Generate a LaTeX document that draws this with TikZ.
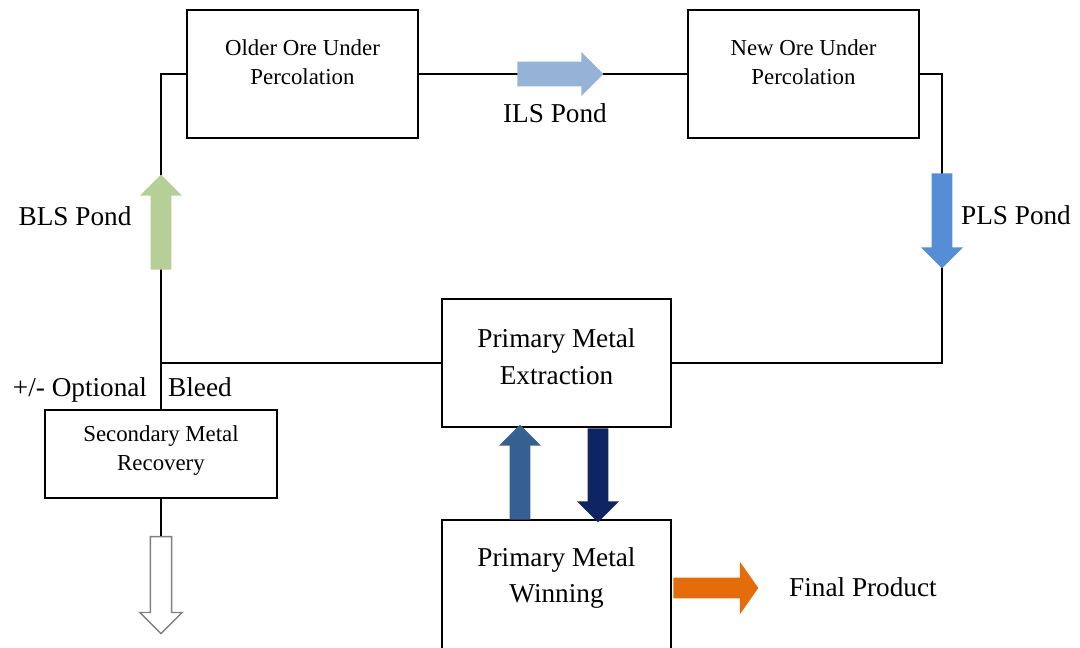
\documentclass[tikz,border=0pt]{standalone}
\usepackage{fontspec}
\setmainfont{Liberation Serif}
\usetikzlibrary{shapes.arrows}
\begin{document}
\begin{tikzpicture}[x=0.02cm, y=-0.02cm,
    unit/.style={draw, line width=0.9pt, minimum width=4.62cm, minimum height=2.56cm},
    flow/.style={single arrow, minimum width=0pt, minimum height=#1, inner xsep=0pt, inner ysep=0.2cm,
      single arrow head extend=0.21cm, single arrow tip angle=90, anchor=tail},
    link/.style={line width=0.7pt},
    pond/.style={font=\fontsize{15.5}{21}\selectfont},
    small/.style={font=\fontsize{13}{16.5}\selectfont, align=center},
    big/.style={font=\fontsize{15.5}{21}\selectfont, align=center}]
    \definecolor{bls-green}{RGB}{181,207,150}
    \definecolor{ils-blue}{RGB}{149,179,215}
    \definecolor{pls-blue}{RGB}{85,142,213}
    \definecolor{up-blue}{RGB}{55,96,146}
    \definecolor{down-blue}{RGB}{15,36,98}
    \definecolor{final-orange}{RGB}{228,108,10}
    \useasboundingbox (0,0) rectangle (1080,648);
    \node[unit] (older) at (302.5,74) {};
    \node[unit] (newer) at (803.5,74) {};
    \node[unit, minimum width=4.58cm] (extract) at (556.5,363) {};
    \node[unit, minimum width=4.58cm, minimum height=2.6cm] (winning) at (556.5,585) {};
    \node[unit, minimum width=4.64cm, minimum height=1.76cm] (secondary) at (161,454) {};
    \node[small] (older-t) at (302.5,62) {Older Ore Under\\Percolation};
    \node[small] (newer-t) at (803.5,62) {New Ore Under\\Percolation};
    \node[big] (extract-t) at (556.5,357) {Primary Metal\\Extraction};
    \node[big] (winning-t) at (556.5,578) {Primary Metal\\Winning};
    \node[small] (secondary-t) at (161,451) {Secondary Metal\\Recovery};
    \coordinate (lt) at (161,74);
    \coordinate (rt) at (942,74);
    \draw[link] (older.east) -- (newer.west);
    \draw[link] (older.west) -- (lt) -- (secondary.north);
    \draw[link] (secondary.north |- extract.west) -- (extract.west);
    \draw[link] (newer.east) -- (rt) |- (extract.east);
    \node[flow=1.9cm, fill=bls-green, rotate=90] (bls) at (161,270) {};
    \node[flow=1.72cm, fill=ils-blue, inner ysep=0.24cm, single arrow head extend=0.19cm] (ils) at (517,74) {};
    \node[flow=1.9cm, fill=pls-blue, rotate=-90] (pls) at (942,173) {};
    \node[flow=1.9cm, fill=up-blue, rotate=90] (refine) at (520,520) {};
    \node[flow=1.88cm, fill=down-blue, rotate=-90] (strip) at (598,428) {};
    \node[flow=1.7cm, fill=final-orange, single arrow head extend=0.32cm, single arrow tip angle=110] (final) at (673,588) {};
    \node[flow=1.94cm, draw=gray, fill=white, line width=0.8pt, rotate=-90] (waste) at (161,536) {};
    \draw[link] (secondary.south) -- (waste.tail);
    \node[pond, anchor=base] (ils-l) at (555,123) {ILS Pond};
    \node[pond, anchor=base] (bls-l) at (75,226) {BLS Pond};
    \node[pond, anchor=base] (pls-l) at (1016,225) {PLS Pond};
    \node[pond, anchor=base] (opt-l) at (80,397) {+/- Optional};
    \node[pond, anchor=base] (bleed-l) at (200,397) {Bleed};
    \node[pond, anchor=base west] (final-l) at (783,597) {Final Product};
\end{tikzpicture}
\end{document}
